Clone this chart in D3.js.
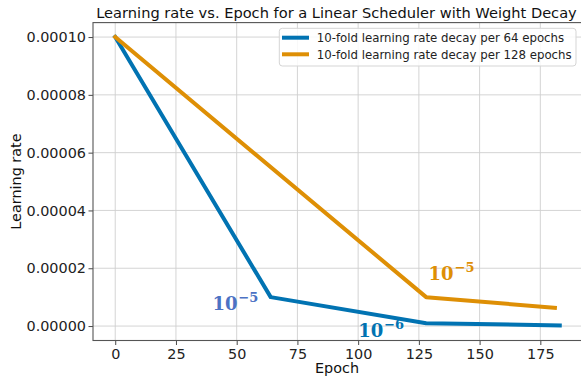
<!DOCTYPE html>
<html>
<head>
<meta charset="utf-8">
<script src="https://cdn.jsdelivr.net/npm/d3@7"></script>
<style>
  html, body { margin: 0; padding: 0; background: #fff; }
  svg { display: block; font-family: "DejaVu Sans", sans-serif; }
</style>
</head>
<body>
<svg id="chart" width="581" height="378"></svg>
<script>
// Epochs at which each schedule changes slope, and the learning rate there
const epochs64 = [0, 64, 128, 183];
const lr64 = [0.0001, 0.00001, 0.000001, 0.00000023];
const epochs128 = [0, 128, 181];
const lr128 = [0.0001, 0.00001, 0.0000063];

const seriesNames = [
  "10-fold learning rate decay per 64 epochs",
  "10-fold learning rate decay per 128 epochs"
];
const seriesColors = ["#0173b2", "#de8f05"];

const xTicks = [0, 25, 50, 75, 100, 125, 150, 175];
const yTicks = [0, 0.00002, 0.00004, 0.00006, 0.00008, 0.0001];

// Exponent annotations: epoch, learning rate, exponent text, colour
const annEpoch = [40, 129, 100];
const annLr = [0.0000057, 0.000016, -0.0000038];
const annExp = ["−5", "−5", "−6"];
const annColor = ["#4c72c4", "#de8f05", "#0173b2"];

const svg = d3.select("#chart");
const plotL = 93, plotR = 582, plotT = 22.6, plotB = 340.5;

const x = d3.scaleLinear().domain([-9.15, 192.15]).range([plotL, plotR]);
const y = d3.scaleLinear().domain([-0.000005, 0.000105]).range([plotB, plotT]);

// Shrink or grow a text's font so that it spans the given width
function fitWidth(sel, width) {
  const fs = parseFloat(sel.style("font-size"));
  const w = sel.node().getComputedTextLength();
  sel.style("font-size", (fs * width / w).toFixed(2) + "px");
}

// Grid lines
const grid = svg.append("g");
grid.selectAll(".gx").data(xTicks).join("line")
  .attr("x1", d => x(d)).attr("x2", d => x(d))
  .attr("y1", plotT).attr("y2", plotB)
  .attr("stroke", "#cfcfcf").attr("stroke-width", 0.9);
grid.selectAll(".gy").data(yTicks).join("line")
  .attr("x1", plotL).attr("x2", plotR)
  .attr("y1", d => y(d)).attr("y2", d => y(d))
  .attr("stroke", "#cfcfcf").attr("stroke-width", 0.9);

// Axes
const xAxis = d3.axisBottom(x).tickValues(xTicks).tickSize(4.5).tickPadding(3.5)
  .tickFormat(d3.format("d"));
const yAxis = d3.axisLeft(y).tickValues(yTicks).tickSize(4.5).tickPadding(2.5)
  .tickFormat(d => d.toFixed(5));

const gx = svg.append("g").attr("transform", `translate(0,${plotB})`).call(xAxis);
const gy = svg.append("g").attr("transform", `translate(${plotL},0)`).call(yAxis);
[gx, gy].forEach(g => {
  g.select(".domain").remove();
  g.selectAll(".tick line").attr("stroke", "#333").attr("stroke-width", 0.9);
  g.selectAll(".tick text").attr("fill", "#222")
    .style("font-family", "DejaVu Sans").style("font-size", "14.4px");
});

// Frame (left, bottom and top spines; right lies at the edge)
svg.append("rect")
  .attr("x", plotL).attr("y", plotT)
  .attr("width", plotR - plotL).attr("height", plotB - plotT)
  .attr("fill", "none").attr("stroke", "#555").attr("stroke-width", 1.1);

// Lines
const line = d3.line().x(d => x(d[0])).y(d => y(d[1]));
const data = [
  d3.zip(epochs64, lr64),
  d3.zip(epochs128, lr128)
];
svg.append("g").selectAll("path").data(data).join("path")
  .attr("d", line)
  .attr("fill", "none")
  .attr("stroke", (d, i) => seriesColors[i])
  .attr("stroke-width", 4)
  .attr("stroke-linecap", "square")
  .attr("stroke-linejoin", "round");

// Exponent annotations
const ann = svg.append("g");
annEpoch.forEach((e, i) => {
  const t = ann.append("text")
    .attr("x", x(e)).attr("y", y(annLr[i]))
    .attr("fill", annColor[i])
    .style("font-family", "DejaVu Serif")
    .style("font-weight", "bold")
    .style("font-size", "18px");
  t.append("tspan").text("10");
  t.append("tspan").attr("dx", 1).attr("dy", -8).style("font-size", "13px").text(annExp[i]);
});

// Title and axis labels
const title = svg.append("text")
  .attr("x", 336.5).attr("y", 17.5)
  .attr("text-anchor", "middle")
  .style("font-size", "15px").attr("fill", "#111")
  .text("Learning rate vs. Epoch for a Linear Scheduler with Weight Decay");
fitWidth(title, 481);

svg.append("text")
  .attr("x", 337).attr("y", 372.5)
  .attr("text-anchor", "middle")
  .style("font-size", "14.4px").attr("fill", "#111")
  .text("Epoch");
svg.append("text")
  .attr("transform", `translate(20.5,${(plotT + plotB) / 2}) rotate(-90)`)
  .attr("text-anchor", "middle")
  .style("font-size", "14.4px").attr("fill", "#111")
  .text("Learning rate");

// Legend
const lg = svg.append("g");
lg.append("rect")
  .attr("x", 279.3).attr("y", 28.3).attr("width", 296.7).attr("height", 37.7)
  .attr("rx", 3).attr("fill", "#fff").attr("fill-opacity", 0.85)
  .attr("stroke", "#d5d5d5").attr("stroke-width", 1);
const legendTexts = seriesNames.map((name, i) => {
  const cy = 37.7 + i * 16.6;
  lg.append("line")
    .attr("x1", 282).attr("x2", 309).attr("y1", cy).attr("y2", cy)
    .attr("stroke", seriesColors[i]).attr("stroke-width", 4);
  return lg.append("text")
    .attr("x", 316.7).attr("y", cy + 4.5)
    .style("font-size", "12px").attr("fill", "#222")
    .text(name);
});
// Both entries share the size that makes the longer one fill the box
fitWidth(legendTexts[1], 255);
legendTexts[0].style("font-size", legendTexts[1].style("font-size"));
</script>
</body>
</html>
